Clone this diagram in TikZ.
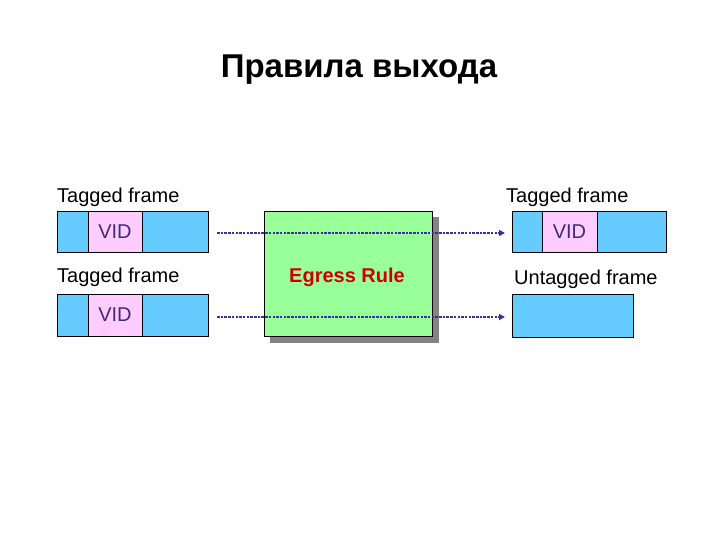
\documentclass[tikz,border=0pt]{standalone}
\usepackage{fontspec}
\setmainfont{Liberation Sans}
\usetikzlibrary{arrows.meta}
\definecolor{frameblue}{HTML}{66CCFF}
\definecolor{vidpink}{HTML}{FFCCFF}
\definecolor{rulegreen}{HTML}{99FF99}
\definecolor{arrowblue}{HTML}{333399}
\definecolor{vidtext}{HTML}{3D2B7A}
\definecolor{rulered}{HTML}{CC0000}
\begin{document}
\begin{tikzpicture}[x=1pt,y=-1pt,
  framebox/.style={draw=black,fill=frameblue,line width=0.8pt},
  vidbox/.style={draw=black,fill=vidpink,line width=0.8pt},
  lbl/.style={font=\fontsize{20}{22}\selectfont,anchor=base west,inner sep=0pt},
  vidlbl/.style={font=\fontsize{20}{22}\selectfont,text=vidtext,inner sep=0pt},
  flow/.style={draw=arrowblue,line width=1.3pt,dash pattern=on 2.5pt off 1.2pt,-{Triangle[length=6pt,width=6pt]}}]
\useasboundingbox[fill=white] (0,0) rectangle (720,540);
% title
\node[font=\fontsize{33}{36}\selectfont\bfseries,inner sep=0pt] (title) at (359,70) {Правила выхода};
% labels
\node[lbl] (l1) at (57,203) {Tagged frame};
\node[lbl] (l2) at (57,282) {Tagged frame};
\node[lbl] (r1) at (506,203) {Tagged frame};
\node[lbl] (r2) at (514,284) {Untagged frame};
% left frames
\draw[framebox] (57,211) rectangle (208,252);
\draw[vidbox] (88,211) rectangle (142,252);
\node[vidlbl] (v1) at (115,232) {VID};
\draw[framebox] (57,294) rectangle (208,336);
\draw[vidbox] (88,294) rectangle (142,336);
\node[vidlbl] (v2) at (115,315) {VID};
% right frames
\draw[framebox] (512,211) rectangle (666,252);
\draw[vidbox] (542,211) rectangle (597,252);
\node[vidlbl] (v3) at (569.5,232) {VID};
\draw[framebox] (512,294) rectangle (633,337);
% egress rule box with shadow
\fill[gray!80!black,opacity=0.8] (270,217) rectangle (439,343);
\node[draw=black,fill=rulegreen,line width=0.8pt,minimum width=168pt,minimum height=125pt,inner sep=0pt,anchor=north west] (rule) at (264,211) {};
\node[font=\fontsize{20}{22}\selectfont\bfseries,text=rulered,inner sep=0pt] (ruletext) at (347,277) {Egress Rule};
% connectors
\coordinate (s1) at (217,233);
\coordinate (e1) at (505,233);
\coordinate (s2) at (217,317);
\coordinate (e2) at (505,317);
\draw[flow] (s1) -- (e1);
\draw[flow] (s2) -- (e2);
\end{tikzpicture}
\end{document}
